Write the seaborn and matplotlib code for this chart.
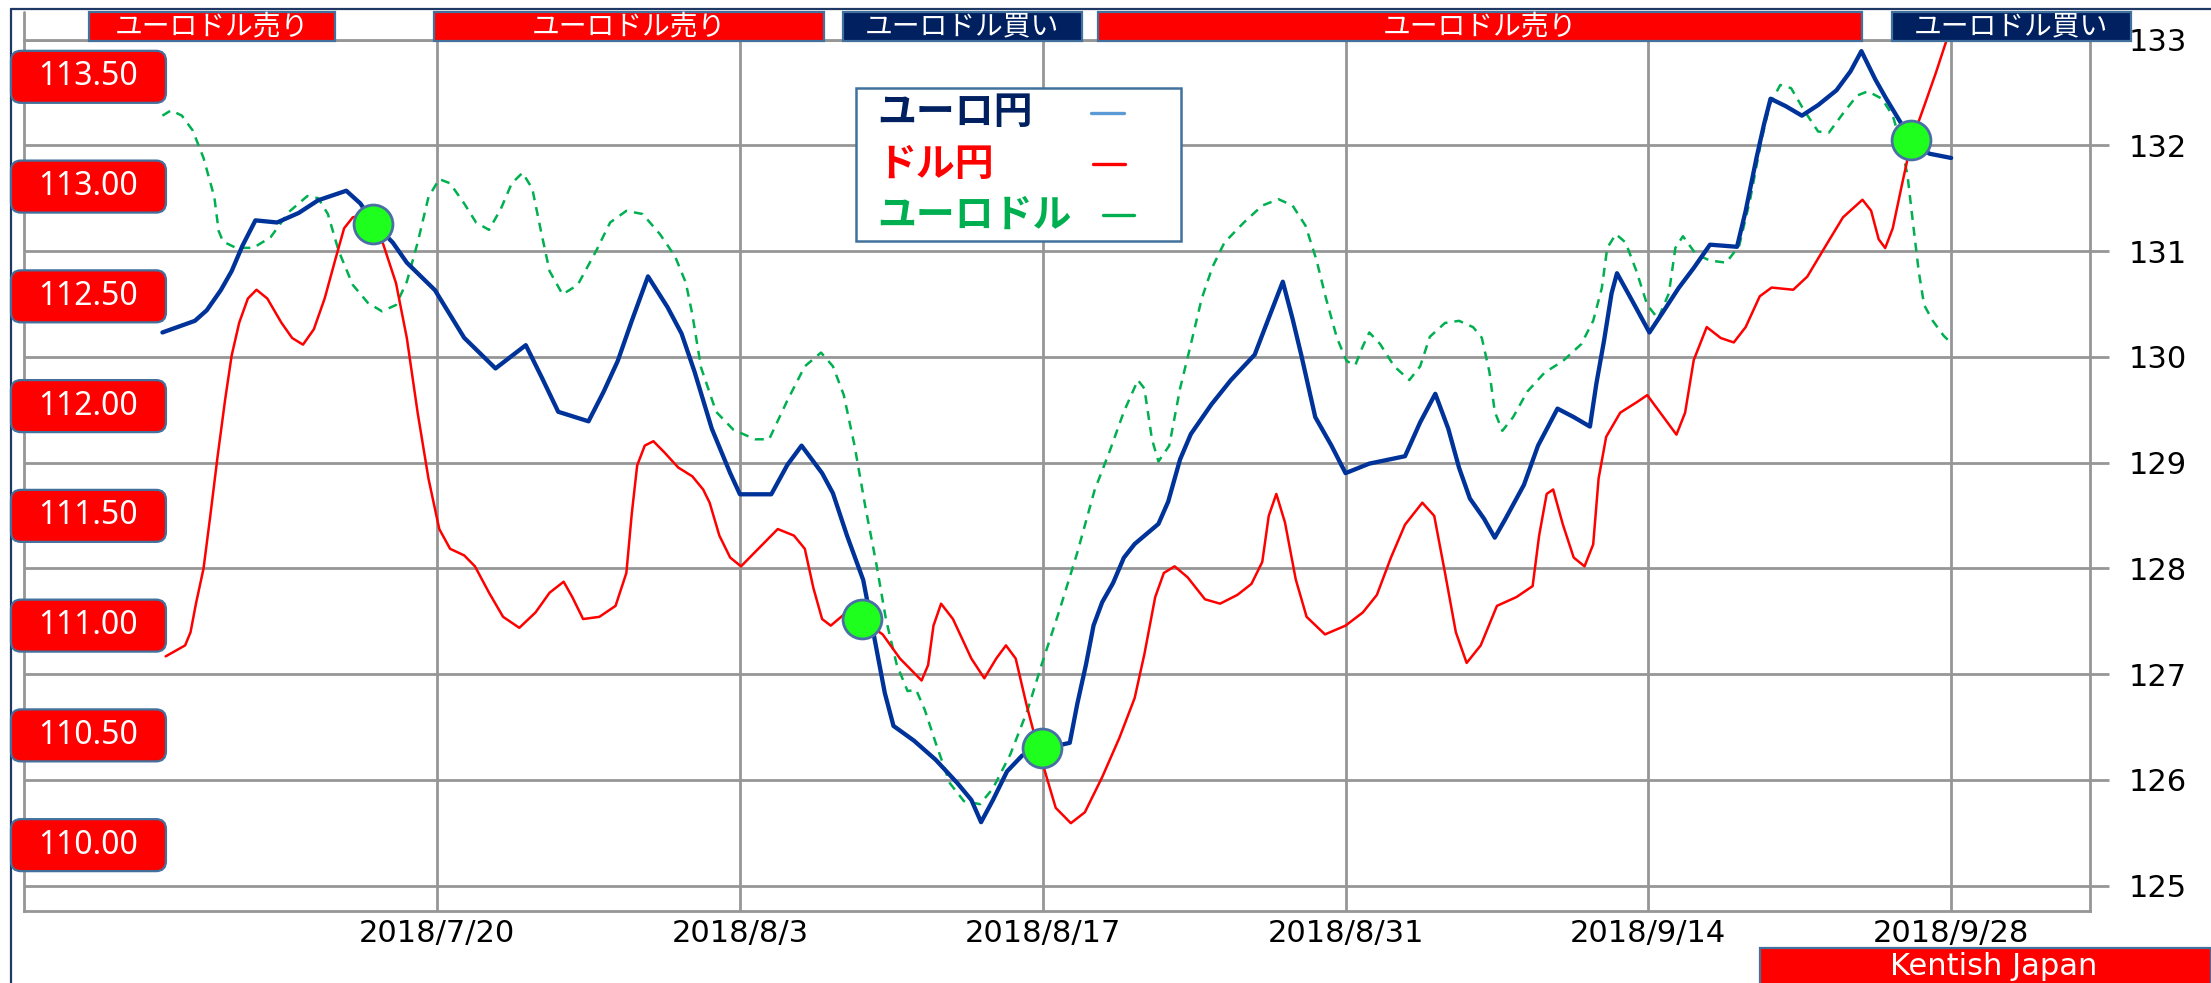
import numpy as np
import pandas as pd
import matplotlib
matplotlib.use('Agg')
import matplotlib.pyplot as plt
import matplotlib.dates as mdates
import matplotlib.transforms as mtransforms
from matplotlib.patches import Rectangle, FancyBboxPatch
from matplotlib.lines import Line2D
import seaborn as sns

# day offsets are counted from 2018/7/20
base_date = pd.Timestamp('2018-07-20')

# ユーロ円 (right axis)
eurjpy_days = [-12.7, -11.2, -10.65, -10.0, -9.5, -9.0, -8.4, -7.4, -6.4, -5.5, -4.2, -3.55, -2.95,
               -2.05, -1.4, -0.1, 1.25, 2.05, 2.7, 4.1, 4.85, 5.6, 7.0, 7.7, 8.35, 9.0, 9.75, 10.65,
               11.3, 11.9, 12.7, 13.55, 14.0, 15.45, 16.2, 16.85, 17.8, 18.3, 18.95, 19.7, 20.2,
               20.7, 21.1, 22.05, 23.05, 24.05, 24.7, 25.15, 25.7, 26.35, 27.05, 27.95, 29.25,
               29.6, 30.0, 30.35, 30.75, 31.25, 31.75, 32.25, 33.35, 33.8, 34.35, 34.85, 35.8,
               36.7, 37.8, 38.4, 39.1, 39.55, 39.95, 40.6, 41.35, 42.0, 43.1, 44.75, 45.45, 46.15,
               46.75, 47.25, 47.75, 48.4, 48.9, 49.4, 50.25, 50.9, 51.8, 52.55, 53.3, 53.6, 53.95,
               54.3, 54.55, 55.2, 56.05, 56.7, 57.4, 58.1, 58.85, 60.1, 60.5, 61.0, 61.35, 61.65,
               62.35, 63.1, 63.85, 64.7, 65.35, 65.85, 66.5, 67.0, 67.65, 68.15, 69.0, 70.0]
eurjpy_vals = [130.23, 130.34, 130.44, 130.63, 130.81, 131.05, 131.29, 131.27, 131.36, 131.48, 131.57,
               131.45, 131.27, 131.08, 130.89, 130.63, 130.18, 130.02, 129.89, 130.11, 129.80,
               129.48, 129.39, 129.67, 129.96, 130.34, 130.76, 130.47, 130.22, 129.86, 129.32,
               128.90, 128.70, 128.70, 128.98, 129.16, 128.90, 128.71, 128.31, 127.89, 127.36,
               126.82, 126.51, 126.37, 126.19, 125.97, 125.81, 125.60, 125.81, 126.08, 126.23,
               126.29, 126.35, 126.72, 127.09, 127.46, 127.68, 127.86, 128.10, 128.23, 128.42,
               128.63, 129.03, 129.27, 129.55, 129.78, 130.02, 130.34, 130.71, 130.36, 130.02,
               129.43, 129.16, 128.90, 128.99, 129.06, 129.38, 129.65, 129.32, 128.95, 128.66,
               128.47, 128.29, 128.47, 128.79, 129.16, 129.51, 129.43, 129.34, 129.75, 130.15,
               130.60, 130.79, 130.55, 130.23, 130.43, 130.65, 130.84, 131.06, 131.04, 131.38,
               131.88, 132.20, 132.44, 132.37, 132.28, 132.38, 132.52, 132.70, 132.89, 132.62,
               132.44, 132.22, 132.04, 131.92, 131.88]

# ユーロドル (drawn on the right-axis scale of the chart)
eurusd_days = [-12.7, -12.3, -11.8, -11.3, -10.8, -10.3, -10.1, -9.9, -9.3, -8.5, -7.7, -6.85, -6.0,
               -5.5, -5.05, -4.55, -3.9, -3.2, -2.55, -1.9, -1.4, -0.9, -0.4, 0.1, 0.6, 1.25, 1.8,
               2.4, 2.95, 3.45, 3.95, 4.4, 4.8, 5.2, 5.8, 6.5, 7.35, 8.0, 8.75, 9.5, 10.3, 11.0,
               11.5, 11.8, 12.2, 12.9, 13.7, 14.7, 15.35, 16.2, 17.0, 17.75, 18.3, 18.8, 19.3,
               19.8, 20.3, 20.75, 21.25, 21.75, 22.15, 22.55, 23.05, 23.7, 24.35, 25.1, 25.7,
               26.5, 27.3, 27.95, 28.8, 29.6, 30.4, 31.1, 31.75, 32.4, 32.7, 33.05, 33.35, 33.85,
               34.35, 34.85, 35.35, 35.85, 36.4, 37.3, 38.15, 38.9, 39.55, 40.15, 40.65, 41.1,
               41.6, 42.05, 42.45, 42.8, 43.1, 43.6, 44.25, 44.95, 45.45, 45.9, 46.6, 47.25, 47.9,
               48.3, 48.65, 48.9, 49.25, 49.75, 50.4, 51.2, 52.05, 52.9, 53.45, 53.85, 54.1, 54.5,
               54.95, 55.45, 55.95, 56.45, 56.95, 57.25, 57.6, 58.2, 58.85, 59.6, 60.2, 60.7,
               61.2, 61.6, 62.1, 62.6, 63.2, 63.85, 64.35, 65.0, 65.65, 66.15, 66.8, 67.3, 67.65,
               67.98, 68.25, 68.5, 68.75, 69.15, 69.65, 70.05]
eurusd_vals = [132.28, 132.33, 132.28, 132.14, 131.88, 131.51, 131.19, 131.09, 131.03, 131.03, 131.13,
               131.37, 131.52, 131.50, 131.35, 131.00, 130.68, 130.51, 130.43, 130.49, 130.71,
               131.08, 131.51, 131.68, 131.64, 131.45, 131.27, 131.20, 131.40, 131.64, 131.74,
               131.59, 131.19, 130.81, 130.59, 130.68, 131.00, 131.27, 131.38, 131.35, 131.16,
               130.95, 130.70, 130.40, 129.90, 129.48, 129.31, 129.22, 129.22, 129.59, 129.91,
               130.04, 129.91, 129.64, 129.16, 128.58, 128.05, 127.52, 127.09, 126.84, 126.85,
               126.66, 126.35, 125.97, 125.80, 125.77, 125.92, 126.24, 126.66, 127.09, 127.62,
               128.15, 128.74, 129.11, 129.48, 129.78, 129.70, 129.22, 129.01, 129.16, 129.70,
               130.12, 130.55, 130.85, 131.08, 131.27, 131.43, 131.49, 131.43, 131.24, 130.92,
               130.55, 130.18, 129.96, 129.92, 130.10, 130.23, 130.12, 129.91, 129.78, 129.91,
               130.19, 130.32, 130.34, 130.28, 130.18, 129.86, 129.48, 129.30, 129.43, 129.67,
               129.85, 129.96, 130.12, 130.34, 130.65, 131.03, 131.16, 131.08, 130.81, 130.49,
               130.36, 130.60, 131.03, 131.14, 130.97, 130.91, 130.89, 131.05, 131.48, 132.02,
               132.38, 132.57, 132.54, 132.33, 132.13, 132.12, 132.30, 132.47, 132.51, 132.44,
               132.28, 132.04, 131.72, 131.24, 130.81, 130.49, 130.34, 130.20, 130.12]

# ドル円 (left axis)
usdjpy_days = [-12.55, -11.65, -11.4, -11.15, -10.8, -10.5, -10.15, -9.8, -9.5, -9.15, -8.75, -8.35,
               -7.85, -7.2, -6.7, -6.2, -5.7, -5.2, -4.7, -4.3, -3.9, -3.4, -2.5, -1.9, -1.4, -0.9,
               -0.4, 0.1, 0.6, 1.25, 1.75, 2.4, 3.05, 3.8, 4.55, 5.2, 5.85, 6.25, 6.75, 7.5, 8.25,
               8.75, 9.0, 9.25, 9.6, 10.0, 10.5, 11.15, 11.8, 12.3, 12.6, 13.05, 13.55, 14.05,
               14.85, 15.75, 16.5, 17.0, 17.4, 17.8, 18.2, 18.8, 19.6, 20.6, 21.4, 22.4, 22.7,
               22.95, 23.3, 23.85, 24.7, 25.3, 25.85, 26.3, 26.75, 27.25, 27.65, 28.15, 28.6,
               29.3, 29.95, 30.75, 31.55, 32.25, 32.7, 33.2, 33.6, 34.1, 34.7, 35.5, 36.2, 37.0,
               37.65, 38.15, 38.45, 38.8, 39.2, 39.7, 40.2, 41.05, 42.0, 42.8, 43.45, 44.1, 44.75,
               45.55, 46.1, 46.6, 47.1, 47.6, 48.25, 49.0, 49.9, 50.65, 50.95, 51.3, 51.6, 52.05,
               52.55, 53.05, 53.45, 53.7, 54.05, 54.7, 55.5, 55.95, 56.55, 57.3, 57.7, 58.1, 58.7,
               59.35, 59.95, 60.5, 61.15, 61.7, 62.7, 63.35, 64.2, 65.0, 65.9, 66.3, 66.65, 66.95,
               67.3, 67.75, 68.15, 68.8, 69.3, 69.8, 70.05]
usdjpy_vals = [110.86, 110.91, 110.97, 111.10, 111.26, 111.49, 111.77, 112.03, 112.23, 112.38, 112.49,
               112.53, 112.49, 112.38, 112.31, 112.28, 112.35, 112.49, 112.67, 112.81, 112.86,
               112.87, 112.74, 112.56, 112.31, 111.97, 111.67, 111.44, 111.35, 111.32, 111.27,
               111.15, 111.04, 110.99, 111.06, 111.15, 111.20, 111.13, 111.03, 111.04, 111.09,
               111.24, 111.51, 111.73, 111.82, 111.84, 111.79, 111.72, 111.68, 111.62, 111.56,
               111.41, 111.31, 111.27, 111.35, 111.44, 111.41, 111.35, 111.17, 111.03, 111.00,
               111.05, 111.03, 110.96, 110.85, 110.75, 110.82, 111.00, 111.10, 111.03, 110.85,
               110.76, 110.85, 110.91, 110.85, 110.64, 110.49, 110.32, 110.17, 110.10, 110.15,
               110.31, 110.49, 110.67, 110.87, 111.13, 111.24, 111.27, 111.22, 111.12, 111.10,
               111.14, 111.19, 111.29, 111.50, 111.60, 111.47, 111.21, 111.04, 110.96, 111.00,
               111.06, 111.14, 111.31, 111.46, 111.56, 111.50, 111.24, 110.97, 110.83, 110.91,
               111.09, 111.13, 111.18, 111.41, 111.60, 111.62, 111.46, 111.31, 111.27, 111.37,
               111.67, 111.86, 111.97, 112.02, 112.05, 111.97, 111.87, 111.97, 112.21, 112.36,
               112.31, 112.29, 112.36, 112.50, 112.54, 112.53, 112.59, 112.73, 112.86, 112.94,
               112.89, 112.76, 112.72, 112.81, 113.02, 113.20, 113.38, 113.52, 113.67, 113.75]

# signal points (green circles), right-axis scale
signal_days = [-2.95, 19.65, 27.95, 68.15]
signal_vals = [131.26, 127.52, 126.30, 132.05]

# signal banners along the top
banner_labels = ['ユーロドル売り', 'ユーロドル売り', 'ユーロドル買い', 'ユーロドル売り', 'ユーロドル買い']
banner_start = [-16.1, -0.15, 18.75, 30.55, 67.25]
banner_end = [-4.7, 17.9, 29.8, 65.9, 78.3]
banner_colors = ['#ff0000', '#ff0000', '#002060', '#ff0000', '#002060']

left_labels = ['113.50', '113.00', '112.50', '112.00', '111.50', '111.00', '110.50', '110.00']
left_vals = [113.5, 113.0, 112.5, 112.0, 111.5, 111.0, 110.5, 110.0]

right_ticks = [125, 126, 127, 128, 129, 130, 131, 132, 133]
xtick_days = [0, 14, 28, 42, 56, 70]
xtick_labels = ['2018/7/20', '2018/8/3', '2018/8/17', '2018/8/31', '2018/9/14', '2018/9/28']

legend_labels = ['ユーロ円', 'ドル円', 'ユーロドル']
legend_text_colors = ['#002060', '#ff0000', '#00b050']
legend_line_colors = ['#5b9bd5', '#ff0000', '#00b050']


def to_dates(days):
    return base_date + pd.to_timedelta(np.asarray(days, dtype=float), unit='D')


sns.set_style('white')
plt.rcParams['font.family'] = ['DejaVu Sans', 'Noto Sans CJK JP']
cjk = ['Noto Sans CJK JP', 'DejaVu Sans']
grid_gray = '#969696'
edge_blue = '#41719c'

fig = plt.figure(figsize=(22.11, 9.83), dpi=100)
ax = fig.add_axes([24 / 2211, 72 / 983, 2066 / 2211, 871.5 / 983])
ax2 = ax.twinx()

# main (right) scale: ユーロ円 and ユーロドル
sns.lineplot(x=to_dates(eurusd_days), y=eurusd_vals, ax=ax, color='#00b050', linewidth=1.8, zorder=2)
ax.lines[-1].set_dashes([3.6, 2.8])
sns.lineplot(x=to_dates(eurjpy_days), y=eurjpy_vals, ax=ax, color='#003399', linewidth=3.1, zorder=3)

# left scale: ドル円
sns.lineplot(x=to_dates(usdjpy_days), y=usdjpy_vals, ax=ax2, color='#ff0000', linewidth=1.8, zorder=3)

# signal circles sit above every line
ax2.plot(to_dates(signal_days), signal_vals, 'o', transform=ax.transData, markersize=28,
         markerfacecolor='#1eff1e', markeredgecolor='#4a6fa5', markeredgewidth=2, zorder=6)

ax.set_xlim(base_date + pd.Timedelta(days=-19.1), base_date + pd.Timedelta(days=76.42))
ax.set_ylim(124.76, 133)
ax2.set_ylim(109.70, 113.67)

ax.set_xticks(to_dates(xtick_days))
ax.set_xticklabels(xtick_labels)
ax.set_yticks(right_ticks)
ax.set_yticklabels([str(t) for t in right_ticks])
ax.yaxis.tick_right()
ax.tick_params(axis='y', left=False, labelleft=False, right=True, labelright=True,
               direction='out', length=13.7, width=2, color=grid_gray, labelsize=22, pad=14,
               labelcolor='black')
ax.tick_params(axis='x', length=0, pad=6, labelsize=22, labelcolor='black')
ax2.tick_params(axis='y', right=False, labelright=False, left=False, labelleft=False)
ax.set_xlabel('')
ax.set_ylabel('')
ax2.set_ylabel('')

ax.grid(True, color=grid_gray, linewidth=2)
ax.set_axisbelow(True)
for sp in ax.spines.values():
    sp.set_color(grid_gray)
    sp.set_linewidth(2)
for sp in ax2.spines.values():
    sp.set_visible(False)

# left spine runs up behind the banners
fig.add_artist(Line2D([0, 0], [1, 1.032], transform=ax.transAxes, color=grid_gray, lw=2))

# banners
btrans = mtransforms.blended_transform_factory(ax.transData, ax.transAxes)
for lbl, s, e, c in zip(banner_labels, banner_start, banner_end, banner_colors):
    x0 = mdates.date2num(base_date + pd.Timedelta(days=s))
    x1 = mdates.date2num(base_date + pd.Timedelta(days=e))
    fig.add_artist(Rectangle((x0, 0.998), x1 - x0, 0.034, transform=btrans,
                             facecolor=c, edgecolor=edge_blue, lw=1.6, zorder=4))
    fig.text((x0 + x1) / 2, 1.0145, lbl, transform=btrans, ha='center', va='center',
             color='white', fontsize=20, family=cjk, zorder=5)

# red value boxes for the left scale
ltrans = mtransforms.blended_transform_factory(ax2.transAxes, ax2.transData)
for lbl, v in zip(left_labels, left_vals):
    box_trans = fig.dpi_scale_trans + mtransforms.ScaledTranslation(0.0312, v, ltrans)
    fig.add_artist(FancyBboxPatch((-0.775, -0.26), 1.55, 0.52,
                                  boxstyle='round,pad=0,rounding_size=0.1',
                                  facecolor='#ff0000', edgecolor=edge_blue, lw=1.6,
                                  transform=box_trans, zorder=4))
    fig.text(0.0312, v, lbl, transform=ltrans, ha='center', va='center',
             color='white', fontsize=23, family=['Noto Sans', 'DejaVu Sans'], zorder=5)

# legend box
fig.add_artist(Rectangle((0.4027, 0.7688), 0.1573, 0.1755, transform=ax.transAxes,
                         facecolor='white', edgecolor=edge_blue, lw=1.8, zorder=4))
row_y = [0.9157, 0.8571, 0.7986]
handle_x = [(0.5165, 0.5324), (0.5174, 0.5329), (0.5223, 0.5373)]
for lbl, tc, lc, y, hx in zip(legend_labels, legend_text_colors, legend_line_colors, row_y, handle_x):
    fig.text(0.4129, y, lbl, transform=ax.transAxes, ha='left', va='center',
             color=tc, fontsize=28, fontweight='bold', family=cjk, zorder=5)
    fig.add_artist(Line2D(list(hx), [y, y], transform=ax.transAxes, color=lc, lw=2.4, zorder=5))

# outer frame of the picture
fig.add_artist(Line2D([11 / 2211, 1], [1 - 9 / 983, 1 - 9 / 983], transform=fig.transFigure,
                      color='#203864', lw=1.6))
fig.add_artist(Line2D([11 / 2211, 11 / 2211], [0, 1 - 9 / 983], transform=fig.transFigure,
                      color='#203864', lw=1.6))

# credit box
fig.add_artist(Rectangle((1760 / 2211, -0.01), 451 / 2211, 0.0456, transform=fig.transFigure,
                         facecolor='#ff0000', edgecolor=edge_blue, lw=1.6, zorder=4))
fig.text(1994 / 2211, 0.0165, 'Kentish Japan', ha='center', va='center', color='white',
         fontsize=22, zorder=5)

fig.savefig('out.png', dpi=100, facecolor='white')
